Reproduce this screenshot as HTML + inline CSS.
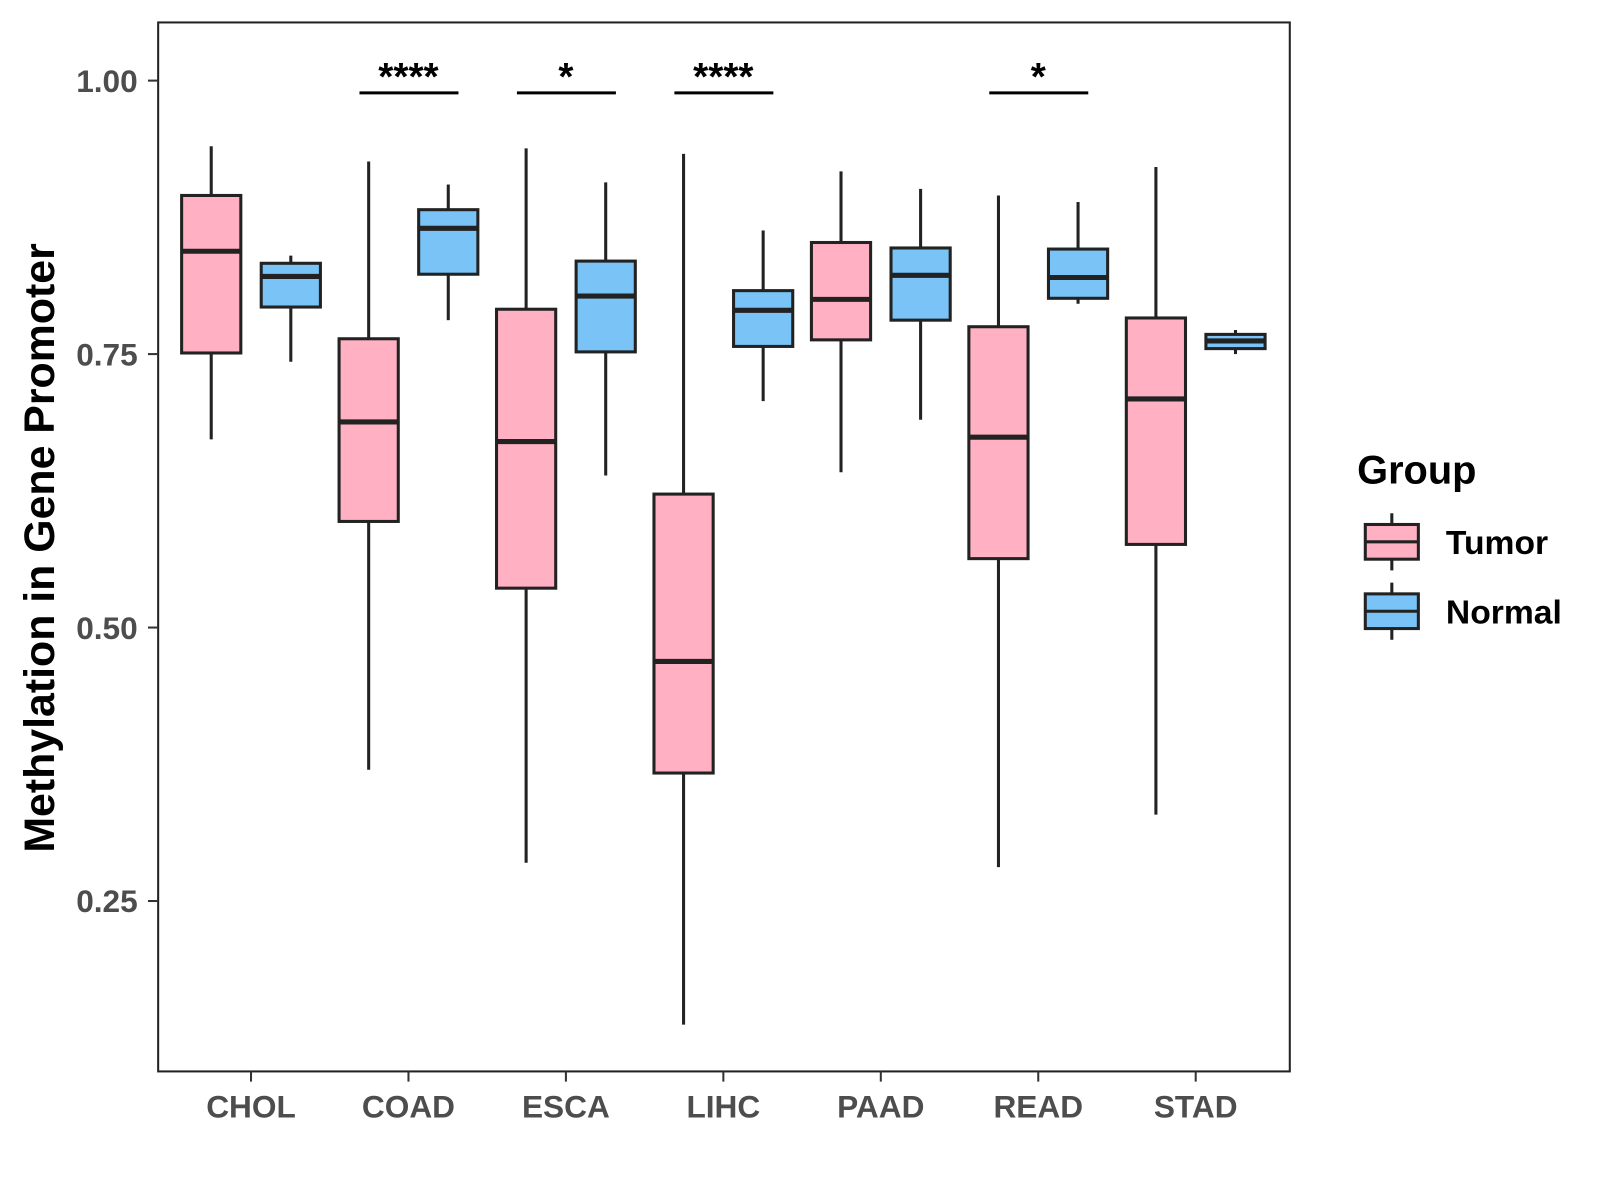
<!DOCTYPE html>
<html><head><meta charset="utf-8">
<style>body{margin:0;background:#fff}svg{display:block;font-family:"Liberation Sans",Arial,sans-serif}</style>
</head><body>
<svg id="chart" width="1600" height="1200"><g id="root" transform="scale(1.0204)"></g></svg>
<script>
const categories=["CHOL","COAD","ESCA","LIHC","PAAD","READ","STAD"];
// [low, q1, median, q3, high]
const tumorStats=[[0.672,0.751,0.844,0.895,0.940],[0.370,0.597,0.688,0.764,0.926],[0.285,0.536,0.670,0.791,0.938],[0.137,0.367,0.469,0.622,0.933],[0.642,0.763,0.800,0.852,0.917],[0.281,0.563,0.674,0.775,0.895],[0.329,0.576,0.709,0.783,0.921]];
const normalStats=[[0.743,0.793,0.821,0.833,0.840],[0.781,0.823,0.865,0.882,0.905],[0.639,0.752,0.803,0.835,0.907],[0.707,0.757,0.790,0.808,0.863],[0.690,0.781,0.822,0.847,0.901],[0.796,0.801,0.820,0.846,0.889],[0.750,0.755,0.762,0.768,0.772]];
const sigLabels=["","****","*","****","","*",""];
const yTicks=[0.25,0.50,0.75,1.00];
const yTickLabels=["0.25","0.50","0.75","1.00"];
const NS="http://www.w3.org/2000/svg";
const svg=document.getElementById("root");
const yS=v=>79+(1-v)*1072;
const xS=i=>246+i*154.3;
function mk(t,a,p){const e=document.createElementNS(NS,t);for(const k in a)e.setAttribute(k,a[k]);(p||svg).appendChild(e);return e;}
const panel=mk("rect",{x:155,y:22,width:1109,height:1028,fill:"none",stroke:"#222","stroke-width":2});


yTicks.forEach((v,i)=>{
  const g=mk("g",{});
  
  
  mk("line",{x1:145,x2:155,y1:yS(v),y2:yS(v),stroke:"#333","stroke-width":2},g);
  const t=mk("text",{x:135,y:yS(v)+11,"text-anchor":"end","font-size":31,"font-weight":"bold",fill:"#4d4d4d"},g);
  t.textContent=yTickLabels[i];
});
categories.forEach((c,i)=>{
  const g=mk("g",{});
  
  
  mk("line",{x1:xS(i),x2:xS(i),y1:1050,y2:1060,stroke:"#333","stroke-width":2},g);
  const t=mk("text",{x:xS(i),y:1095,"text-anchor":"middle","font-size":31,"font-weight":"bold",fill:"#4d4d4d"},g);
  t.textContent=c;
});
function box(cx,s,fill,name){
  const g=mk("g",{});
  
  
  const st={stroke:"#222","stroke-width":3};
  mk("line",Object.assign({x1:cx,x2:cx,y1:yS(s[4]),y2:yS(s[3])},st),g);
  mk("line",Object.assign({x1:cx,x2:cx,y1:yS(s[1]),y2:yS(s[0])},st),g);
  mk("rect",Object.assign({x:cx-29,y:yS(s[3]),width:58,height:yS(s[1])-yS(s[3]),fill:fill},st),g);
  mk("line",{x1:cx-29,x2:cx+29,y1:yS(s[2]),y2:yS(s[2]),stroke:"#222","stroke-width":5},g);
}
categories.forEach((c,i)=>{
  box(xS(i)-39,tumorStats[i],"#FFB1C3","box-tumor-"+c.toLowerCase());
  box(xS(i)+39,normalStats[i],"#79C3F7","box-normal-"+c.toLowerCase());
  if(sigLabels[i]){
    const g=mk("g",{});
    
    
    mk("line",{x1:xS(i)-48,x2:xS(i)+49,y1:91,y2:91,stroke:"#000","stroke-width":3},g);
    const t=mk("text",{x:xS(i),y:88,"text-anchor":"middle","font-size":38,"font-weight":"bold",fill:"#000"},g);
    t.textContent=sigLabels[i];
  }
});
const yt=mk("text",{x:0,y:0,transform:"translate(53,537) rotate(-90)","text-anchor":"middle","font-size":42,"font-weight":"bold",fill:"#000"});
yt.textContent="Methylation in Gene Promoter";


const lg=mk("g",{});


const lt=mk("text",{x:1330,y:474,"font-size":39,"font-weight":"bold",fill:"#000"},lg);
lt.textContent="Group";
[["Tumor","#FFB1C3",531],["Normal","#79C3F7",599]].forEach(([n,f,cy])=>{
  const g=mk("g",{},lg);
  
  
  mk("line",{x1:1364,x2:1364,y1:cy-28,y2:cy+28,stroke:"#222","stroke-width":3},g);
  mk("rect",{x:1338,y:cy-17,width:52,height:34,fill:f,stroke:"#222","stroke-width":3},g);
  mk("line",{x1:1338,x2:1390,y1:cy,y2:cy,stroke:"#222","stroke-width":3},g);
  const t=mk("text",{x:1417,y:cy+12,"font-size":33,"font-weight":"bold",fill:"#000"},g);
  t.textContent=n;
});
</script>
</body></html>
